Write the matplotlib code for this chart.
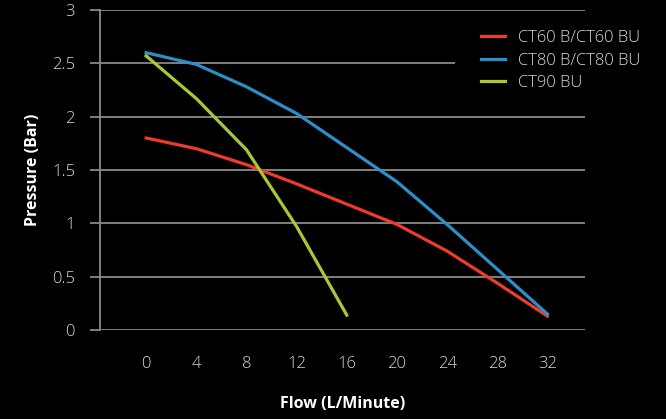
import matplotlib.pyplot as plt
from matplotlib.patches import Rectangle

flow = [0, 4, 8, 12, 16, 20, 24, 28, 32]
ct60 = [1.80, 1.70, 1.55, 1.37, 1.18, 0.99, 0.74, 0.44, 0.13]
ct80 = [2.60, 2.49, 2.28, 2.03, 1.71, 1.39, 0.99, 0.57, 0.15]
ct90_flow = [0, 4, 8, 12, 16]
ct90 = [2.57, 2.17, 1.69, 0.97, 0.14]
yticks = [0, 0.5, 1, 1.5, 2, 2.5, 3]
ylabels = ["0", "0.5", "1", "1.5", "2", "2.5", "3"]

plt.rcParams['font.family'] = ['Open Sans', 'DejaVu Sans']

fig = plt.figure(figsize=(6.66, 4.19), dpi=100, facecolor='black')
ax = fig.add_axes([100 / 666, 1 - 330 / 419, 485 / 666, 320 / 419])
ax.set_facecolor('black')

ax.plot(flow, ct60, color='#ee3b2c', lw=2.3, label='CT60 B/CT60 BU', zorder=3)
ax.plot(flow, ct80, color='#2b8fca', lw=2.3, label='CT80 B/CT80 BU', zorder=3)
ax.plot(ct90_flow, ct90, color='#a9c934', lw=2.3, label='CT90 BU', zorder=3)

ax.set_xlim(-3.68, 35.0)
ax.set_ylim(0, 3)
ax.set_xticks(flow)
ax.set_yticks(yticks)
ax.set_yticklabels(ylabels)
ax.grid(axis='y', color='#8a8a8a', lw=1.3, zorder=0)
ax.tick_params(axis='x', length=0, pad=19, labelsize=12)
ax.tick_params(axis='y', length=7, width=1.3, color='#8a8a8a', labelsize=12, pad=11)
for s in ['top', 'right', 'bottom']:
    ax.spines[s].set_visible(False)
ax.spines['left'].set_color('#8a8a8a')
ax.spines['left'].set_linewidth(1.3)

for lab in ax.get_xticklabels() + ax.get_yticklabels():
    lab.set_color('#d8d8d8')
    lab.set_fontweight('light')

ax.set_xlabel('Flow (L/Minute)', color='white', fontsize=11.5, fontweight='bold', labelpad=17)
ax.set_ylabel('Pressure (Bar)', color='white', fontsize=11.5, fontweight='bold', labelpad=8)

# black box behind the legend hides the gridline there
ax.add_patch(Rectangle((455 / 666, 1 - 94 / 419), 140 / 666, 70 / 419,
                       transform=fig.transFigure, facecolor='black',
                       edgecolor='none', zorder=2))

leg = ax.legend(loc='upper left', bbox_to_anchor=(466 / 666, 1 - 15 / 419),
                bbox_transform=fig.transFigure, frameon=False,
                prop={'size': 12, 'weight': 'light'}, handlelength=1.45,
                handletextpad=0.8, labelspacing=0.4, borderpad=0.4)
for t in leg.get_texts():
    t.set_color('#d8d8d8')

fig.savefig('out.png', dpi=100, facecolor='black')
